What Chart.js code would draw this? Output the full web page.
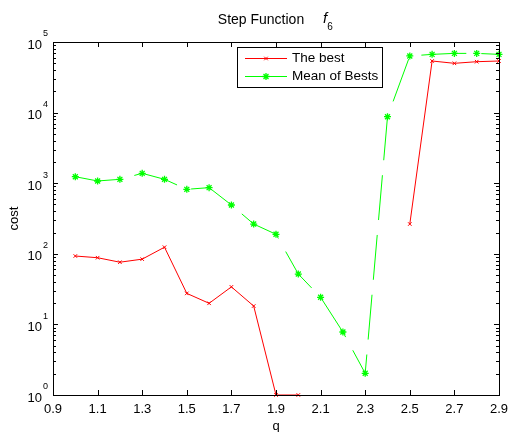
<!DOCTYPE html>
<html>
<head>
<meta charset="utf-8">
<script src="https://cdn.jsdelivr.net/npm/chart.js@4.4.1/dist/chart.umd.min.js"></script>
<style>
  html, body { margin: 0; padding: 0; background: #fff; }
  #wrap { width: 510px; height: 432px; }
</style>
</head>
<body>
<div id="wrap"><canvas id="chart" width="510" height="432"></canvas></div>
<script>
// ── Data ─────────────────────────────────────────────────
const qValues  = [1.0, 1.1, 1.2, 1.3, 1.4, 1.5, 1.6, 1.7, 1.8, 1.9, 2.0, 2.1, 2.2, 2.3, 2.4, 2.5, 2.6, 2.7, 2.8, 2.9];
const bestCost = [93, 88, 76, 84, 124, 27.5, 19.9, 34, 18.2, 1, 1, null, null, null, null, 264, 53800, 49900, 52600, 53800];
const meanCost = [1236, 1075, 1135, 1380, 1135, 819, 865, 491, 264, 189, 51.7, 24.2, 7.8, 2.03, 8750, 63400, 66800, 69000, 69000, 66800];

const xTickValues = [0.9, 1.1, 1.3, 1.5, 1.7, 1.9, 2.1, 2.3, 2.5, 2.7, 2.9];
const xTickLabels = ['0.9', '1.1', '1.3', '1.5', '1.7', '1.9', '2.1', '2.3', '2.5', '2.7', '2.9'];
const yExponents  = [0, 1, 2, 3, 4, 5];

const seriesNames = ['The best', 'Mean of Bests'];
const titleText = 'Step Function';
const titleSymbol = 'f';
const titleSub = '6';
const xLabel = 'q';
const yLabel = 'cost';

const FONT = '"Liberation Sans", Arial, sans-serif';
const RED = '#ff0000';
const GREEN = '#00ff00';
const DASH = [45, 15];

function toPoints(ys) {
    return qValues.map((q, i) => ({ x: q, y: ys[i] }));
}

// ── MATLAB-style frame, ticks, labels and legend ─────────
const matlabFrame = {
    id: 'matlabFrame',
    afterDraw(chart) {
        const ctx = chart.ctx;
        const a = chart.chartArea;
        const xs = chart.scales.x, ys = chart.scales.y;
        ctx.save();
        ctx.strokeStyle = '#000';
        ctx.fillStyle = '#000';
        ctx.lineWidth = 1;

        // box
        ctx.strokeRect(Math.round(a.left) + 0.5, Math.round(a.top) + 0.5,
                       Math.round(a.right - a.left), Math.round(a.bottom - a.top));

        // x ticks
        ctx.beginPath();
        xTickValues.forEach(v => {
            const px = Math.round(xs.getPixelForValue(v)) + 0.5;
            ctx.moveTo(px, a.bottom); ctx.lineTo(px, a.bottom - 5);
            ctx.moveTo(px, a.top); ctx.lineTo(px, a.top + 5);
        });
        // y ticks (major + minor)
        yExponents.forEach(e => {
            const py = Math.round(ys.getPixelForValue(Math.pow(10, e))) + 0.5;
            ctx.moveTo(a.left, py); ctx.lineTo(a.left + 5, py);
            ctx.moveTo(a.right, py); ctx.lineTo(a.right - 5, py);
            if (e < 5) {
                for (let k = 2; k <= 9; k++) {
                    const pm = Math.round(ys.getPixelForValue(k * Math.pow(10, e))) + 0.5;
                    ctx.moveTo(a.left, pm); ctx.lineTo(a.left + 3, pm);
                    ctx.moveTo(a.right, pm); ctx.lineTo(a.right - 3, pm);
                }
            }
        });
        ctx.stroke();

        // x tick labels
        ctx.font = '13px ' + FONT;
        ctx.textAlign = 'center';
        ctx.textBaseline = 'middle';
        xTickValues.forEach((v, i) => {
            ctx.fillText(xTickLabels[i], xs.getPixelForValue(v), a.bottom + 14);
        });

        // y tick labels 10^e
        yExponents.forEach(e => {
            const py = ys.getPixelForValue(Math.pow(10, e));
            ctx.font = '13px ' + FONT;
            ctx.textAlign = 'right';
            ctx.fillText('10', a.left - 11, py + 3);
            ctx.font = '9px ' + FONT;
            ctx.textAlign = 'left';
            ctx.fillText(String(e), a.left - 10, py - 8);
        });

        // axis labels
        ctx.font = '13px ' + FONT;
        ctx.textAlign = 'center';
        ctx.fillText(xLabel, (a.left + a.right) / 2, a.bottom + 31);
        ctx.save();
        ctx.translate(14, (a.top + a.bottom) / 2);
        ctx.rotate(-Math.PI / 2);
        ctx.fillText(yLabel, 0, 0);
        ctx.restore();

        // title
        ctx.font = '14px ' + FONT;
        ctx.textAlign = 'center';
        ctx.fillText(titleText, 261, 20);
        ctx.font = 'italic 15px ' + FONT;
        ctx.fillText(titleSymbol, 325, 19);
        ctx.font = '10px ' + FONT;
        ctx.fillText(titleSub, 330, 27);

        // legend
        const lx = 237.5, ly = 47.5, lw = 145, lh = 40;
        ctx.fillStyle = '#fff';
        ctx.fillRect(lx, ly, lw, lh);
        ctx.strokeStyle = '#000';
        ctx.strokeRect(lx, ly, lw, lh);
        const rows = [
            { y: 58.5, color: RED, style: 'crossRot', r: 2.5, name: seriesNames[0] },
            { y: 76.5, color: GREEN, style: 'star', r: 3.5, name: seriesNames[1] }
        ];
        rows.forEach(row => {
            ctx.strokeStyle = row.color;
            ctx.lineWidth = 1;
            ctx.beginPath();
            ctx.moveTo(245, row.y); ctx.lineTo(287, row.y);
            ctx.stroke();
            ctx.lineWidth = row.style === 'star' ? 1.3 : 1;
            Chart.helpers.drawPoint(ctx, { pointStyle: row.style, radius: row.r, borderWidth: ctx.lineWidth }, 266, row.y);
            ctx.fillStyle = '#000';
            ctx.font = '13.5px ' + FONT;
            ctx.textAlign = 'left';
            ctx.textBaseline = 'middle';
            ctx.fillText(row.name, 292, row.y);
        });
        ctx.restore();
    }
};

const whiteBg = {
    id: 'whiteBg',
    beforeDraw(chart) {
        const ctx = chart.ctx;
        ctx.save();
        ctx.fillStyle = '#fff';
        ctx.fillRect(0, 0, chart.width, chart.height);
        ctx.restore();
    }
};

new Chart(document.getElementById('chart').getContext('2d'), {
    type: 'line',
    data: {
        datasets: [
            {
                label: seriesNames[0],
                data: toPoints(bestCost),
                borderColor: RED,
                backgroundColor: RED,
                borderWidth: 1,
                pointStyle: 'crossRot',
                pointRadius: 2.5,
                pointBorderWidth: 1,
                pointBorderColor: RED,
                spanGaps: false,
                tension: 0,
                clip: false
            },
            {
                label: seriesNames[1],
                data: toPoints(meanCost),
                borderColor: GREEN,
                backgroundColor: GREEN,
                borderWidth: 1,
                borderDash: DASH,
                pointStyle: 'star',
                pointRadius: 3.5,
                pointBorderWidth: 1.3,
                pointBorderColor: GREEN,
                tension: 0,
                clip: false
            }
        ]
    },
    options: {
        responsive: false,
        animation: false,
        layout: { padding: { left: 53, right: 11, top: 42, bottom: 37 } },
        plugins: { legend: { display: false }, tooltip: { enabled: false }, title: { display: false } },
        scales: {
            x: {
                type: 'linear', min: 0.9, max: 2.9,
                grid: { display: false }, border: { display: false },
                ticks: { display: false },
                afterFit: s => { s.height = 0; }
            },
            y: {
                type: 'logarithmic', min: 1, max: 100000,
                grid: { display: false }, border: { display: false },
                ticks: { display: false },
                afterFit: s => { s.width = 0; }
            }
        }
    },
    plugins: [whiteBg, matlabFrame]
});
</script>
</body>
</html>
